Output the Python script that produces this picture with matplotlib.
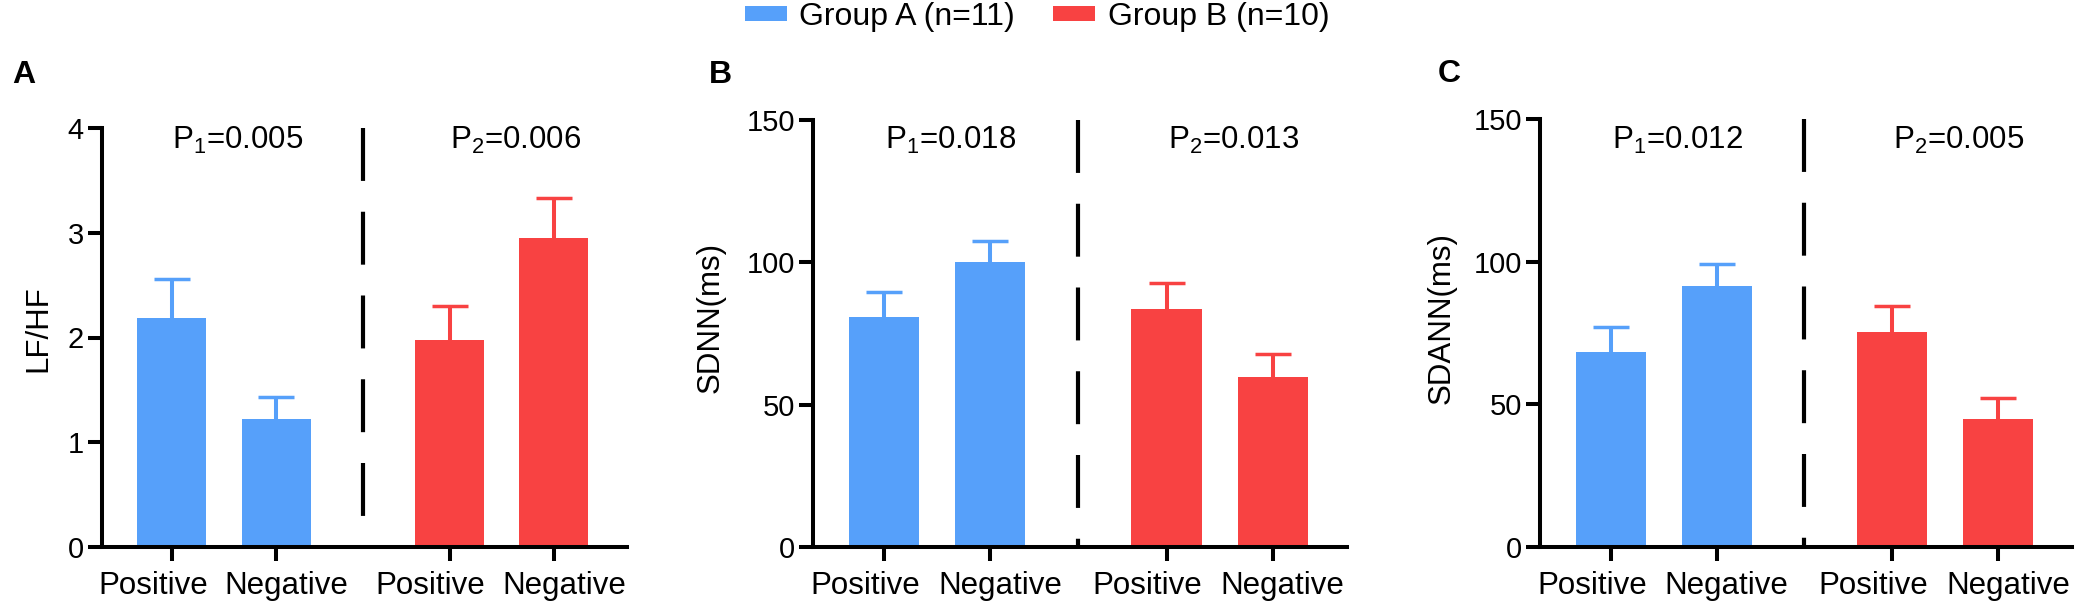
import matplotlib
matplotlib.use('Agg')
import matplotlib.pyplot as plt
from matplotlib.patches import Patch
from matplotlib.transforms import blended_transform_factory, ScaledTranslation

plt.rcParams['font.family'] = ['Liberation Sans', 'DejaVu Sans']

# ---------------- data ----------------
categories = ['Positive', 'Negative', 'Positive', 'Negative']
group_names = ['Group A (n=11)', 'Group B (n=10)']
panel_letters = ['A', 'B', 'C']
ylabels = ['LF/HF', 'SDNN(ms)', 'SDANN(ms)']

lfhf_mean = [2.19, 1.22, 1.98, 2.95]
lfhf_err = [0.37, 0.21, 0.32, 0.38]
sdnn_mean = [80.7, 100.0, 83.6, 59.7]
sdnn_err = [8.9, 7.5, 9.2, 8.0]
sdann_mean = [68.4, 91.4, 75.3, 44.7]
sdann_err = [8.8, 7.7, 9.3, 7.5]

yticks_a = [0, 1, 2, 3, 4]
yticks_bc = [0, 50, 100, 150]

p1_labels = ['0.005', '0.018', '0.012']
p2_labels = ['0.006', '0.013', '0.005']

# ---------------- style ----------------
W, H = 2079, 604
BLUE = '#56A0FA'
RED = '#F84242'
bar_colors = [BLUE, BLUE, RED, RED]
positions = [0, 1, 2.66, 3.66]
bar_width = 0.66
divider_x = 1.83
xlim = (-0.67, 4.36)
label_shift_px = [-19, 10, -19, 10]

fig = plt.figure(figsize=(W / 100, H / 100), dpi=100)

def px_box(left, right, top, bottom):
    return [left / W, 1 - bottom / H, (right - left) / W, (bottom - top) / H]

axes_boxes = [px_box(102, 627, 128, 547),
              px_box(813, 1347, 120, 547),
              px_box(1540, 2072, 119, 547)]
means = [lfhf_mean, sdnn_mean, sdann_mean]
errs = [lfhf_err, sdnn_err, sdann_err]
yticks_all = [yticks_a, yticks_bc, yticks_bc]
ylabel_pos = [(38, 329), (711, 317), (1442, 318)]
letter_pos = [(24, 75), (720, 75), (1449, 74)]

LW = 2.9
for i in range(3):
    ax = fig.add_axes(axes_boxes[i])
    m, e = means[i], errs[i]
    ax.bar(positions, m, width=bar_width, color=bar_colors, zorder=2)
    for x, v, er, c in zip(positions, m, e, bar_colors):
        cont = ax.errorbar([x], [v], yerr=[[0], [er]], fmt='none', ecolor=c,
                           elinewidth=2.9, capsize=13, capthick=2.5, zorder=1)
        caps = cont[1]
        if len(caps) == 2:
            caps[0].set_visible(False)
    top = yticks_all[i][-1]
    ax.set_ylim(0, top)
    ax.set_xlim(*xlim)
    ax.set_yticks(yticks_all[i])
    ax.set_xticks(positions)
    ax.set_xticklabels([''] * len(positions))
    base = blended_transform_factory(ax.transData, ax.transAxes)
    for x, lab, dx in zip(positions, categories, label_shift_px):
        ax.text(x, 0, lab, ha='center', va='top', fontsize=22.5,
                transform=base + ScaledTranslation(dx / 100, -24 / 100,
                                                   fig.dpi_scale_trans))
    for s in ['top', 'right']:
        ax.spines[s].set_visible(False)
    for s in ['left', 'bottom']:
        ax.spines[s].set_linewidth(LW)
        ax.spines[s].set_zorder(5)
    ax.tick_params(axis='y', length=10, width=LW, labelsize=21, pad=3)
    ax.tick_params(axis='x', length=10, width=LW, labelsize=23, pad=2)
    # dashed divider
    ax.plot([divider_x, divider_x], [top, 0], color='black', lw=3,
            ls=(0, (12.7, 7.4)), clip_on=False, zorder=3)
    # p-value annotations
    tr = blended_transform_factory(ax.transData, fig.transFigure)
    ax.text(0.63, 1 - 149 / H, r'P$_\mathregular{1}$=' + p1_labels[i],
            transform=tr, ha='center', va='baseline', fontsize=22.5)
    ax.text(3.29, 1 - 149 / H, r'P$_\mathregular{2}$=' + p2_labels[i],
            transform=tr, ha='center', va='baseline', fontsize=22.5)
    # y label
    fig.text(ylabel_pos[i][0] / W, 1 - ylabel_pos[i][1] / H, ylabels[i],
             rotation=90, ha='center', va='center', fontsize=22.5)
    # panel letter
    fig.text(letter_pos[i][0] / W, 1 - letter_pos[i][1] / H, panel_letters[i],
             ha='center', va='center', fontsize=23, fontweight='bold')

handles = [Patch(facecolor=BLUE, edgecolor='none', label=group_names[0]),
           Patch(facecolor=RED, edgecolor='none', label=group_names[1])]
fig.legend(handles=handles, loc='center left',
           bbox_to_anchor=(745 / W, 1 - 17 / H), ncol=2, frameon=False,
           fontsize=23, handlelength=1.3, handleheight=0.32,
           handletextpad=0.4, columnspacing=1.2, borderpad=0,
           borderaxespad=0)

fig.savefig('out.png', dpi=100)
